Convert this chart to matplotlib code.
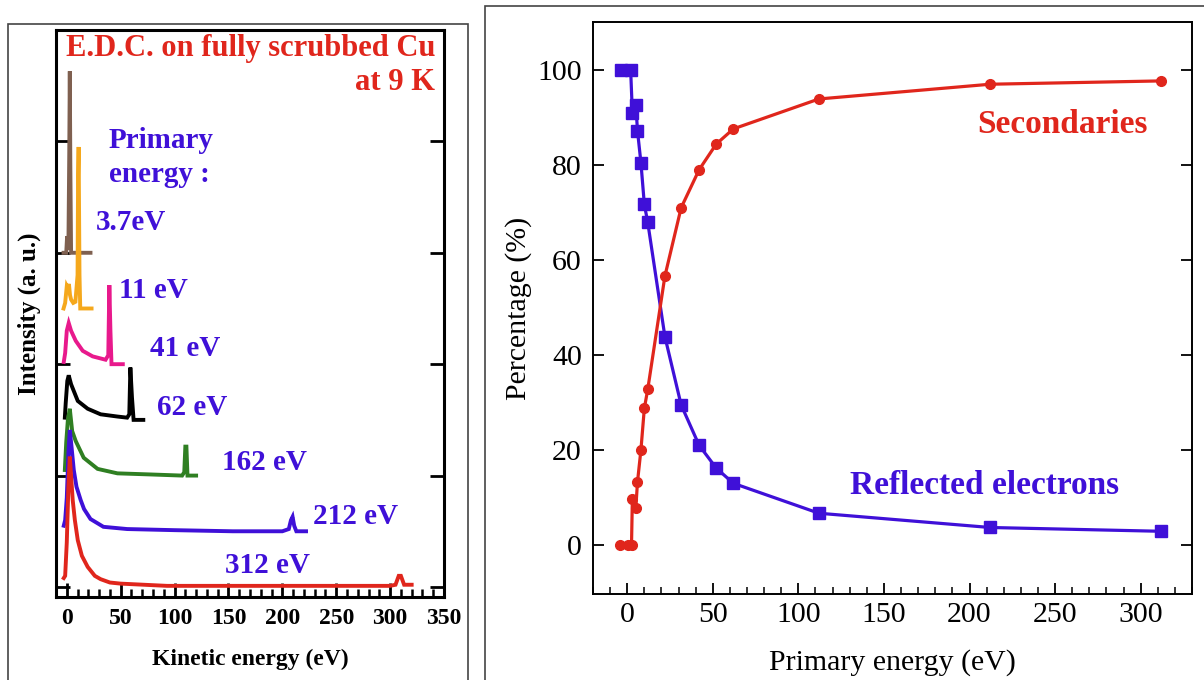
import matplotlib
matplotlib.use("Agg")
import matplotlib.pyplot as plt
from matplotlib.patches import Rectangle
from matplotlib.ticker import MultipleLocator

plt.rcParams['font.family'] = ['Liberation Serif', 'DejaVu Serif']

# ---- left panel: energy distribution curves (offset intensity, a.u.) ----
labels = ["3.7eV", "11 eV", "41 eV", "62 eV", "162 eV", "212 eV", "312 eV"]
offsets = [3.0, 2.5, 2.0, 1.5, 1.0, 0.5, 0.0]
colors = ["#7f6050", "#f5a81c", "#e8198c", "#000000", "#2f7f22", "#3f10d8", "#e0261c"]

e_37 = [-3, -0.5, 0.3, 1.0, 1.5, 2.3, 2.8, 3.3, 4.0, 22]
i_37 = [0, 0, 0.15, 0.03, 0.05, 0.9, 1.63, 0.8, 0, 0]

e_11 = [-3, -1.5, 0, 1, 2, 3, 4, 6, 8, 10, 10.5, 11, 11.8, 12.5, 23]
i_11 = [0, 0.05, 0.2, 0.18, 0.22, 0.12, 0.08, 0.05, 0.06, 0.3, 1.2, 1.45, 0.3, 0, 0]

e_41 = [-2.8, -1.5, 0, 1.8, 4, 8.3, 14.8, 24, 36, 38.5, 39.5, 40.5, 41.5, 52]
i_41 = [0.02, 0.1, 0.3, 0.37, 0.3, 0.21, 0.12, 0.07, 0.04, 0.08, 0.71, 0.3, 0, 0]

e_62 = [-1.8, -1, 0.5, 1.8, 4, 10.2, 19.4, 31.4, 47, 56, 58, 59, 60.5, 62, 71]
i_62 = [0.02, 0.15, 0.35, 0.4, 0.32, 0.17, 0.1, 0.05, 0.03, 0.02, 0.05, 0.47, 0.2, 0, 0]

e_162 = [-1.8, -0.5, 1, 2.8, 5, 8.3, 15.7, 28.6, 47, 78, 107, 109, 110, 111, 112, 120]
i_162 = [0.05, 0.3, 0.5, 0.6, 0.4, 0.31, 0.16, 0.06, 0.02, 0.01, 0.0, 0.03, 0.26, 0.26, 0, 0]

e_212 = [-2.8, -1.5, 0, 1.5, 2.8, 4.5, 6.5, 9, 12.9, 16, 22, 34, 56, 100, 154, 200, 206, 208, 209.5, 211, 213, 222]
i_212 = [0.05, 0.1, 0.3, 0.7, 0.91, 0.75, 0.55, 0.4, 0.28, 0.2, 0.11, 0.04, 0.02, 0.01, 0.0, 0.0, 0.02, 0.1, 0.13, 0.05, 0, 0]

e_312 = [-2.8, -1.5, 0, 1.5, 2.8, 4, 5.5, 7.5, 10.2, 14, 19.4, 26, 31.4, 40, 50, 93, 150, 250, 290, 300, 305, 308, 310, 313, 320]
i_312 = [0.08, 0.1, 0.4, 0.9, 1.17, 1.0, 0.78, 0.6, 0.42, 0.28, 0.18, 0.1, 0.07, 0.04, 0.03, 0.01, 0.01, 0.01, 0.01, 0.01, 0.02, 0.1, 0.1, 0.02, 0.02]

edc_e = [e_37, e_11, e_41, e_62, e_162, e_212, e_312]
edc_i = [i_37, i_11, i_41, i_62, i_162, i_212, i_312]

# label positions (energy, intensity)
label_pos = [(26.8, 3.27), (48, 2.66), (77.6, 2.14), (84, 1.61), (144, 1.12), (228, 0.63), (147, 0.19)]

# ---- right panel: percentages vs primary energy ----
e_refl = [-3.5, 2.0, 3.0, 5.0, 6.0, 8.0, 10.0, 12.0, 22.0, 31.5, 42.0, 52.0, 62.0, 112.0, 212.0, 312.0]
p_refl = [100, 100, 91.0, 92.7, 87.2, 80.5, 71.7, 67.9, 43.9, 29.5, 21.0, 16.2, 13.0, 6.7, 3.7, 2.9]
e_sec = [-4.0, 0.5, 2.5, 3.0, 5.0, 6.0, 8.0, 10.0, 12.0, 22.0, 31.5, 42.0, 52.0, 62.0, 112.0, 212.0, 312.0]
p_sec = [0, 0, 0, 9.7, 7.7, 13.3, 20.0, 28.8, 32.8, 56.6, 71.0, 79.0, 84.4, 87.6, 93.9, 97.0, 97.7]

blue = "#3f10d8"
red = "#e0261c"

fig = plt.figure(figsize=(12.04, 6.8), dpi=100)

# outer frames of the two pictures
fig.add_artist(Rectangle((8 / 1204, -0.05), 460 / 1204, 1.05 - 24 / 680,
                         transform=fig.transFigure, fill=False, ec="#444444", lw=1.2))
fig.add_artist(Rectangle((485 / 1204, -0.05), 0.7, 1.05 - 6 / 680,
                         transform=fig.transFigure, fill=False, ec="#444444", lw=1.2))

# left panel
ax1 = fig.add_axes([56 / 1204, 1 - 597 / 680, 388 / 1204, 567 / 680])
for e, i, off, c in zip(edc_e, edc_i, offsets, colors):
    ax1.plot(e, [v + off for v in i], color=c, lw=2.8, solid_joinstyle="miter")
for (x, y), lab in zip(label_pos, labels):
    ax1.text(x, y, lab, color=blue, fontsize=21, fontweight="bold", va="center", ha="left")
ax1.text(38.8, 4.01, "Primary", color=blue, fontsize=21, fontweight="bold", va="center", ha="left")
ax1.text(38.8, 3.70, "energy :", color=blue, fontsize=21, fontweight="bold", va="center", ha="left")
ax1.text(341.6, 4.83, "E.D.C. on fully scrubbed Cu", color=red, fontsize=22,
         fontweight="bold", va="center", ha="right")
ax1.text(341.6, 4.53, "at 9 K", color=red, fontsize=22, fontweight="bold", va="center", ha="right")

ax1.set_xlim(-10, 350)
ax1.set_ylim(-0.09, 5.0)
ax1.xaxis.set_major_locator(MultipleLocator(50))
ax1.xaxis.set_minor_locator(MultipleLocator(10))
ax1.set_yticks([0, 1, 2, 3, 4])
ax1.set_yticklabels([])
ax1.tick_params(axis="x", which="major", direction="in", length=10, width=2, pad=8, labelsize=17)
ax1.tick_params(axis="x", which="minor", direction="in", length=6, width=1.8)
ax1.tick_params(axis="y", which="major", direction="in", length=10, width=2, left=True, right=True)
for lab in ax1.get_xticklabels():
    lab.set_fontweight("bold")
for sp in ax1.spines.values():
    sp.set_linewidth(2.2)
ax1.set_xlabel("Kinetic energy (eV)", fontsize=17, fontweight="bold", labelpad=14)
ax1.set_ylabel("Intensity (a. u.)", fontsize=18, fontweight="bold", labelpad=7)

# right panel
ax2 = fig.add_axes([593 / 1204, 1 - 594 / 680, 599 / 1204, 572 / 680])
ax2.plot(e_refl, p_refl, color=blue, lw=2.3, marker="s", ms=8.5, mec=blue, mfc=blue)
ax2.plot(e_sec, p_sec, color=red, lw=2.3, marker="o", ms=7, mec=red, mfc=red)
ax2.text(204.7, 88.6, "Secondaries", color=red, fontsize=24, fontweight="bold", va="center", ha="left")
ax2.text(130.4, 12.6, "Reflected electrons", color=blue, fontsize=24, fontweight="bold",
         va="center", ha="left")

ax2.set_xlim(-20, 330)
ax2.set_ylim(-10.3, 110.1)
ax2.xaxis.set_major_locator(MultipleLocator(50))
ax2.xaxis.set_minor_locator(MultipleLocator(10))
ax2.set_yticks([0, 20, 40, 60, 80, 100])
ax2.tick_params(axis="x", which="major", direction="in", length=8, width=1.3, pad=6, labelsize=21.5)
ax2.tick_params(axis="x", which="minor", direction="in", length=5, width=1.1)
ax2.tick_params(axis="y", which="major", direction="in", length=8, width=1.3, pad=8,
                labelsize=21.5, left=True, right=True)
for sp in ax2.spines.values():
    sp.set_linewidth(1.4)
ax2.set_xlabel("Primary energy (eV)", fontsize=21.5, labelpad=15)
ax2.set_ylabel("Percentage (%)", fontsize=21.5, labelpad=4)

fig.savefig("out.png", dpi=100)
